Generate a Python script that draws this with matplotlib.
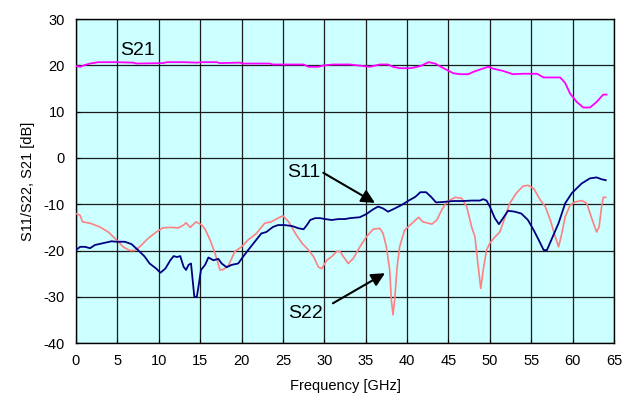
import matplotlib
matplotlib.use("Agg")
import matplotlib.pyplot as plt

plt.rcParams['font.family'] = ['Liberation Sans', 'DejaVu Sans']
plt.rcParams['axes.unicode_minus'] = False

# S11 (dark blue)
s11_f = [0, 0.5, 1.1, 1.7, 2.3, 3.3, 4.3, 4.9, 5.9, 6.7, 7.5, 8.3, 8.9, 9.7, 10.2, 10.8,
         11.4, 11.8, 12.2, 12.6, 13.0, 13.3, 13.6, 13.9, 14.1, 14.3, 14.6, 14.8, 15.1, 15.6,
         16.0, 16.6, 17.2, 17.6, 18.2, 18.8, 19.6, 20.2, 20.8, 21.6, 22.4, 23.0, 23.8, 24.4,
         25.2, 26.1, 26.9, 27.5, 27.9, 28.3, 28.9, 29.5, 30.1, 30.9, 31.7, 32.5, 33.1, 34.3,
         35.1, 35.9, 36.5, 37.1, 37.7, 38.3, 39.3, 40.2, 41.0, 41.6, 42.3, 42.9, 43.5, 44.4,
         45.6, 46.8, 47.8, 48.8, 49.2, 49.6, 50.0, 50.6, 51.1, 51.6, 52.2, 53.0, 53.8, 54.6,
         55.3, 55.9, 56.5, 56.9, 57.5, 58.3, 59.1, 59.9, 61.1, 62.1, 62.9, 63.5, 64.0]
s11_db = [-19.9, -19.2, -19.2, -19.5, -18.8, -18.4, -18.0, -18.1, -18.1, -18.6, -19.9, -21.3,
          -22.8, -23.9, -24.8, -23.9, -22.1, -21.2, -21.4, -21.2, -23.5, -24.2, -23.1, -22.8,
          -26.4, -30.0, -30.0, -27.8, -24.2, -23.1, -21.5, -22.1, -21.8, -22.8, -23.6, -23.1,
          -22.8, -21.3, -19.9, -18.1, -16.3, -16.0, -14.9, -14.5, -14.5, -14.7, -15.2, -15.4,
          -14.5, -13.4, -13.0, -13.0, -13.2, -13.4, -13.2, -13.2, -13.0, -12.8, -12.1, -11.1,
          -10.5, -10.9, -11.6, -11.1, -10.2, -9.2, -8.4, -7.4, -7.4, -8.4, -9.6, -9.5, -9.3,
          -9.3, -9.2, -9.2, -8.9, -9.2, -10.5, -13.0, -14.3, -13.0, -11.4, -11.6, -12.0, -13.4,
          -15.6, -17.7, -19.9, -19.9, -17.4, -14.1, -9.8, -7.6, -5.5, -4.4, -4.2, -4.6, -4.8]

# S22 (pink)
s22_f = [0, 0.5, 0.8, 1.7, 2.9, 3.9, 4.9, 5.7, 6.5, 7.1, 7.7, 8.7, 9.7, 10.5, 11.4, 12.4,
         13.0, 13.3, 13.8, 14.5, 15.2, 15.6, 16.2, 16.8, 17.4, 17.8, 18.4, 19.2, 20.0, 20.8,
         21.8, 22.8, 23.6, 24.4, 25.0, 25.7, 26.5, 27.3, 28.1, 28.7, 29.3, 29.7, 30.3, 30.9,
         31.5, 31.9, 32.3, 32.9, 33.5, 34.3, 35.1, 35.9, 36.7, 37.1, 37.5, 37.9, 38.1, 38.3,
         38.5, 38.8, 39.1, 39.7, 40.6, 41.4, 41.9, 43.0, 43.6, 44.2, 44.8, 45.8, 46.6, 47.2,
         47.8, 48.2, 48.6, 48.9, 49.2, 49.6, 50.0, 50.6, 51.2, 51.8, 52.4, 53.2, 54.0, 54.6,
         55.3, 56.1, 56.7, 57.3, 57.9, 58.3, 58.7, 59.1, 59.7, 60.3, 61.1, 61.7, 62.3, 62.9,
         63.2, 63.5, 63.7, 64.0]
s22_db = [-12.0, -12.4, -13.8, -14.1, -14.9, -16.0, -17.7, -19.2, -20.0, -20.0, -19.2, -17.4,
          -16.0, -15.1, -15.0, -15.1, -14.5, -14.0, -15.0, -13.8, -14.5, -15.4, -17.7, -20.6,
          -24.2, -24.1, -23.3, -20.2, -19.2, -17.7, -16.3, -14.1, -13.8, -13.0, -12.5, -13.8,
          -16.3, -18.4, -19.9, -21.3, -23.6, -23.9, -22.1, -21.3, -20.2, -20.2, -21.3, -22.8,
          -21.7, -19.2, -17.0, -15.4, -15.2, -16.3, -19.2, -24.2, -30.7, -33.9, -30.7, -23.5,
          -19.2, -15.6, -14.1, -12.8, -13.8, -14.3, -13.4, -11.2, -9.5, -8.5, -8.7, -10.5,
          -14.9, -17.0, -23.5, -28.2, -24.2, -19.9, -18.4, -17.1, -16.0, -13.0, -9.8, -7.6,
          -6.1, -5.9, -6.6, -9.1, -10.5, -13.4, -17.0, -19.2, -16.3, -12.7, -10.2, -9.5, -9.2,
          -9.8, -13.0, -16.0, -14.9, -10.5, -8.5, -8.5]

# S21 (magenta)
s21_f = [0, 0.5, 1.1, 1.7, 2.7, 4.9, 6.9, 7.3, 10.5, 11.0, 13.0, 14.6, 15.2, 17.0, 17.4,
         19.8, 20.2, 23.4, 23.8, 27.5, 28.1, 29.3, 29.9, 31.1, 33.1, 35.5, 36.7, 37.7, 38.3,
         39.1, 40.4, 41.6, 42.6, 43.4, 44.4, 45.6, 46.4, 47.4, 48.0, 48.8, 49.8, 50.4, 51.6,
         52.8, 54.0, 55.7, 56.5, 57.7, 58.5, 59.1, 59.7, 60.5, 61.3, 62.1, 62.9, 63.7, 64.1]
s21_db = [19.9, 19.7, 20.1, 20.4, 20.7, 20.7, 20.6, 20.4, 20.5, 20.7, 20.7, 20.6, 20.7, 20.7,
          20.5, 20.6, 20.4, 20.4, 20.2, 20.2, 19.7, 19.7, 20.0, 20.2, 20.2, 19.7, 20.2, 20.2,
          19.7, 19.4, 19.4, 19.85, 20.7, 20.4, 19.4, 18.3, 18.1, 18.1, 18.6, 19.1, 19.7, 19.3,
          18.8, 18.1, 18.2, 18.2, 17.4, 17.4, 17.4, 16.2, 13.9, 12.1, 10.9, 10.9, 12.1, 13.7, 13.7]

x_ticks = list(range(0, 66, 5))
y_ticks = list(range(-40, 31, 10))

fig = plt.figure(figsize=(6.33, 4.07), dpi=100)
ax = fig.add_axes([0.120, 0.157, 0.850, 0.796])
ax.set_facecolor('#ccffff')

ax.plot(s21_f, s21_db, color='#ff00ff', lw=1.3, zorder=3)
ax.plot(s22_f, s22_db, color='#ff8080', lw=1.2, zorder=3)
ax.plot(s11_f, s11_db, color='#000080', lw=1.3, zorder=4)

ax.set_xlim(0, 65)
ax.set_ylim(-40, 30)
ax.set_xticks(x_ticks)
ax.set_yticks(y_ticks)
ax.grid(True, color='#1a1a1a', lw=0.9, zorder=1)
ax.set_axisbelow(True)
for s in ax.spines.values():
    s.set_color('black')
    s.set_linewidth(1.0)
ax.tick_params(direction='in', length=3, labelsize=10.5, pad=8, colors='black')

ax.set_xlabel('Frequency [GHz]', fontsize=10.5, labelpad=8)
ax.set_ylabel('S11/S22, S21 [dB]', fontsize=10.5, labelpad=6)

ax.text(7.39, 22.2, 'S21', fontsize=14, ha='center', va='baseline', zorder=5)
ax.text(27.52, -4.1, 'S11', fontsize=14, ha='center', va='baseline', zorder=5)
ax.text(27.73, -34.65, 'S22', fontsize=14, ha='center', va='baseline', zorder=5)

arrow = dict(arrowstyle='-|>', color='black', lw=1.5, mutation_scale=20,
             shrinkA=0, shrinkB=0)
ax.annotate('', xy=(36.12, -9.7), xytext=(29.88, -3.2), arrowprops=arrow, zorder=5)
ax.annotate('', xy=(37.33, -24.9), xytext=(31.04, -31.4), arrowprops=arrow, zorder=5)

fig.savefig('out.png', dpi=100)
